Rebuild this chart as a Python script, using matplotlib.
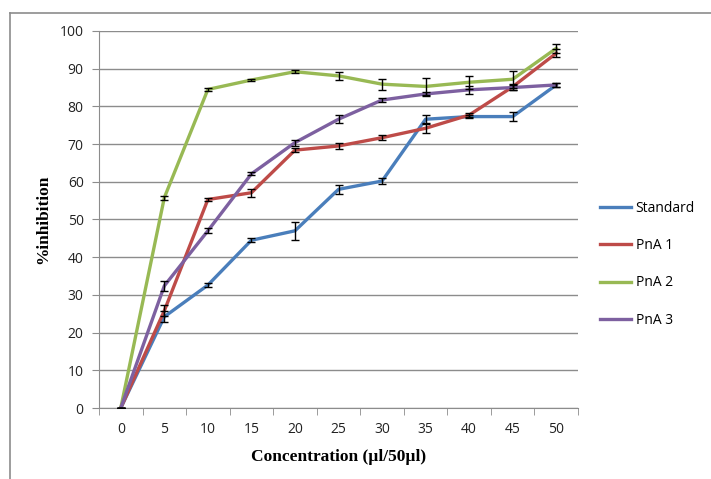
import matplotlib
matplotlib.use("Agg")
import matplotlib.pyplot as plt
from matplotlib.lines import Line2D

# data
conc = ["0", "5", "10", "15", "20", "25", "30", "35", "40", "45", "50"]
standard = [0, 24.2, 32.6, 44.5, 47.0, 58.0, 60.2, 76.6, 77.3, 77.3, 85.7]
standard_err = [0, 1.5, 0.6, 0.5, 2.4, 1.2, 0.8, 1.0, 0.5, 1.2, 0.6]
pna1 = [0, 25.8, 55.3, 57.1, 68.4, 69.5, 71.7, 74.2, 77.7, 85.2, 94.1]
pna1_err = [0, 1.5, 0.5, 1.0, 0.6, 0.8, 0.7, 1.2, 0.5, 0.8, 1.0]
pna2 = [0, 55.8, 84.5, 87.0, 89.2, 88.1, 85.9, 85.3, 86.4, 87.2, 95.4]
pna2_err = [0, 0.5, 0.3, 0.3, 0.4, 1.0, 1.5, 2.2, 1.7, 2.3, 1.2]
pna3 = [0, 32.4, 47.0, 62.1, 70.4, 76.6, 81.7, 83.3, 84.4, 85.0, 85.7]
pna3_err = [0, 1.3, 0.7, 0.4, 0.8, 1.0, 0.5, 0.5, 1.0, 0.6, 0.5]

series = [
    ("Standard", standard, standard_err, "#4A7EBB"),
    ("PnA 1", pna1, pna1_err, "#BE4B48"),
    ("PnA 2", pna2, pna2_err, "#98B954"),
    ("PnA 3", pna3, pna3_err, "#7D60A0"),
]

plt.rcParams["font.family"] = ["Open Sans", "DejaVu Sans"]

fig = plt.figure(figsize=(7.11, 4.79), dpi=100)
ax = fig.add_axes([99 / 711, 71 / 479, 479 / 711, 377 / 479])

x = list(range(len(conc)))
for name, vals, err, color in series:
    ax.plot(x, vals, color=color, lw=2.4, solid_joinstyle="round", zorder=3)
    ax.errorbar(x, vals, yerr=err, fmt="none", ecolor="black",
                elinewidth=1, capsize=3, capthick=1, zorder=4)

grid_c = "#8c8c8c"
ax.set_ylim(0, 100)
ax.set_xlim(-0.5, len(conc) - 0.5)
ax.set_yticks(range(0, 101, 10))
ax.set_xticks(x)
ax.set_xticklabels(conc)
ax.set_xticks([i - 0.5 for i in range(len(conc) + 1)], minor=True)
ax.tick_params(axis="x", which="major", length=0, pad=10, labelsize=10, labelcolor="#222222")
ax.tick_params(axis="x", which="minor", length=5, color=grid_c, direction="out")
ax.tick_params(axis="y", length=5, color=grid_c, direction="out", labelsize=10,
               labelcolor="#222222", pad=6)
ax.yaxis.grid(True, color=grid_c, lw=1)
ax.set_axisbelow(True)
for s in ["top", "right"]:
    ax.spines[s].set_visible(False)
for s in ["left", "bottom"]:
    ax.spines[s].set_color(grid_c)

ax.set_xlabel("Concentration (µl/50µl)", family="Liberation Serif",
              fontweight="bold", fontsize=12.5, labelpad=9)
ax.set_ylabel("%inhibition", family="Liberation Serif",
              fontweight="bold", fontsize=12.5, labelpad=6)

handles = [Line2D([0], [0], color=c, lw=2.4) for _, _, _, c in series]
ax.legend(handles, [s[0] for s in series], loc="upper left",
          bbox_to_anchor=(587 / 711, 1 - 188 / 479), bbox_transform=fig.transFigure,
          frameon=False, fontsize=10, handlelength=2.3, handletextpad=0.3,
          labelspacing=1.62)

# chart border (left and top edges visible)
fig.add_artist(Line2D([10 / 711, 10 / 711], [0, 1 - 13 / 479], color="#8c8c8c", lw=1.2))
fig.add_artist(Line2D([10 / 711, 1], [1 - 13 / 479, 1 - 13 / 479], color="#8c8c8c", lw=1.2))

fig.savefig("out.png", dpi=100)
